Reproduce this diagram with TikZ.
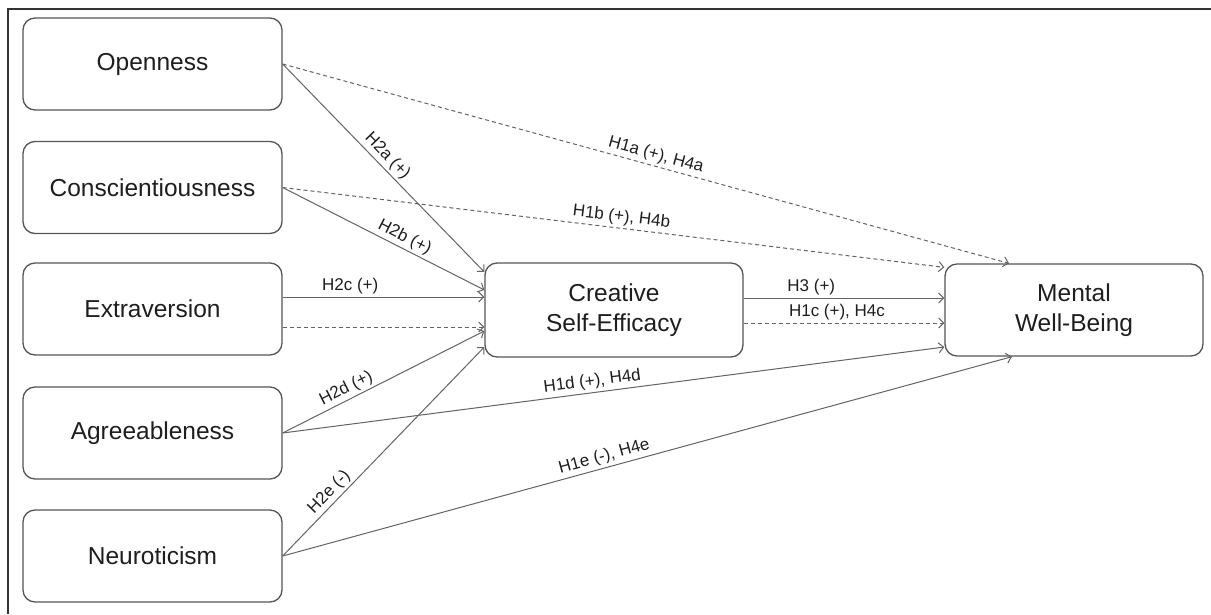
\documentclass[tikz,border=0pt]{standalone}
\usepackage{fontspec}
\setmainfont{Liberation Sans}
\usetikzlibrary{arrows.meta,calc}
\definecolor{boxc}{HTML}{555555}
\definecolor{linec}{HTML}{636363}
\definecolor{txtc}{HTML}{1E1E1E}
\definecolor{framec}{HTML}{333333}
\begin{document}
\begin{tikzpicture}[x=1pt,y=1pt,
  box/.style={draw=boxc,line width=1.3pt,rounded corners=12pt,minimum width=259pt,minimum height=92pt,inner sep=0pt,align=center,text=txtc,font=\fontsize{24.5}{30}\selectfont},
  arr/.style={draw=linec,line width=1pt,-{Straight Barb[length=5pt,width=10pt]}},
  darr/.style={arr,dash pattern=on 4pt off 3pt},
  lab/.style={text=txtc,font=\fontsize{17}{20}\selectfont,inner sep=2.5pt}]
\useasboundingbox (0,0) rectangle (1211,-614);
\draw[framec,line width=2pt] (8,-614) -- (8,-9) -- (1211,-9);
% nodes
\node[box] (o) at (152.5,-64) {Openness};
\node[box] (c) at (152.5,-187.5) {Conscientiousness};
\node[box] (e) at (152.5,-309) {Extraversion};
\node[box] (a) at (152.5,-433) {Agreeableness};
\node[box] (n) at (152.5,-556) {Neuroticism};
\node[box,minimum width=258pt,minimum height=94pt] (cse) at (614,-310) {Creative\\Self-Efficacy};
\node[box,minimum width=258pt] (mwb) at (1074,-310) {Mental\\Well-Being};
% helper coordinates
\coordinate (e1) at ($(e.east)+(0,12)$);
\coordinate (e2) at ($(e.east)+(0,-18)$);
\coordinate (s3) at ($(cse.east)+(0,12)$);
\coordinate (s4) at ($(cse.east)+(0,-13)$);
% direct paths to mental well-being
\draw[darr] (o.east) -- ($(mwb.north)+(-65,0)$) node[lab,sloped,above,pos=.51]{H1a (+), H4a};
\draw[darr] (c.east) -- ($(mwb.north west)+(0,-4)$) node[lab,sloped,above,pos=.51]{H1b (+), H4b};
\draw[arr] (a.east) -- ($(mwb.west)+(0,-37)$) node[lab,sloped,above,pos=.47]{H1d (+), H4d};
\draw[arr] (n.east) -- ($(mwb.south)+(-62,0)$) node[lab,sloped,above,pos=.445]{H1e (-), H4e};
% paths to creative self-efficacy
\draw[arr] (o.east) -- ($(cse.west)+(0,38)$) node[lab,sloped,above,pos=.48]{H2a (+)};
\draw[arr] (c.east) -- ($(cse.west)+(0,20)$) node[lab,sloped,above,pos=.58]{H2b (+)};
\draw[arr] (e1) -- (e1 -| cse.west) node[lab,above,pos=.335]{H2c (+)};
\draw[darr] (e2) -- (e2 -| cse.west);
\draw[arr] (a.east) -- ($(cse.west)+(0,-21)$) node[lab,sloped,above,pos=.34]{H2d (+)};
\draw[arr] (n.east) -- ($(cse.west)+(0,-37)$) node[lab,sloped,above,pos=.27]{H2e (-)};
% creative self-efficacy to mental well-being
\draw[arr] (s3) -- (s3 -| mwb.west) node[lab,above,pos=.337]{H3 (+)};
\draw[darr] (s4) -- (s4 -| mwb.west) node[lab,above,pos=.465]{H1c (+), H4c};
\end{tikzpicture}
\end{document}
